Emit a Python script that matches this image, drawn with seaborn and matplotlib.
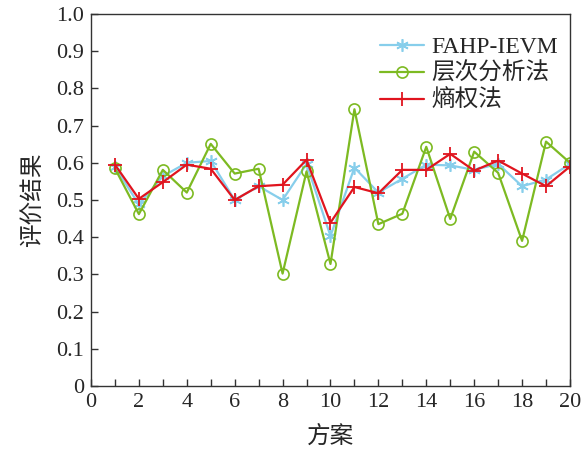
import matplotlib
matplotlib.use("Agg")
import matplotlib.pyplot as plt
import seaborn as sns
import pandas as pd

schemes = list(range(1, 21))
fahp_ievm = [0.589, 0.488, 0.564, 0.600, 0.605, 0.500, 0.537, 0.500, 0.597, 0.403,
             0.587, 0.520, 0.557, 0.595, 0.593, 0.581, 0.597, 0.537, 0.555, 0.597]
ahp = [0.585, 0.462, 0.581, 0.520, 0.651, 0.571, 0.584, 0.302, 0.577, 0.328,
       0.744, 0.435, 0.463, 0.643, 0.449, 0.630, 0.573, 0.390, 0.657, 0.600]
entropy = [0.595, 0.503, 0.548, 0.595, 0.584, 0.500, 0.537, 0.541, 0.608, 0.439,
           0.535, 0.518, 0.581, 0.581, 0.624, 0.579, 0.606, 0.571, 0.537, 0.590]
series_names = ["FAHP-IEVM", "层次分析法", "熵权法"]
x_ticks = list(range(0, 21, 2))
y_ticks = [i / 10 for i in range(11)]
y_ticklabels = ["0"] + [f"{i/10:.1f}" for i in range(1, 11)]

sns.set_theme(style="ticks")
plt.rcParams['font.family'] = ['Liberation Serif', 'Noto Sans CJK SC']
plt.rcParams['axes.unicode_minus'] = False

fig = plt.figure(figsize=(5.87, 4.54), dpi=100)
ax = fig.add_axes([0.155, 0.150, 0.816, 0.819])

df = pd.DataFrame({"x": schemes, "a": fahp_ievm, "b": ahp, "c": entropy})

sns.lineplot(data=df, x="x", y="a", ax=ax, color="#87CEEB", lw=1.6,
             marker=(6, 2, 0), markersize=9, markeredgewidth=1.2,
             markeredgecolor="#87CEEB", label=series_names[0])
sns.lineplot(data=df, x="x", y="b", ax=ax, color="#7DBA22", lw=1.6,
             marker="o", markersize=8, markerfacecolor="none",
             markeredgecolor="#7DBA22", markeredgewidth=1.2, label=series_names[1])
sns.lineplot(data=df, x="x", y="c", ax=ax, color="#E0141E", lw=1.6,
             marker="+", markersize=10, markeredgewidth=1.3,
             markeredgecolor="#E0141E", label=series_names[2])

ax.set_xlim(0, 20)
ax.set_ylim(0, 1.0)
ax.set_xticks(x_ticks)
ax.set_xticklabels([str(v) for v in x_ticks])
ax.set_xticks(list(range(1, 20, 2)), minor=True)
ax.set_yticks(y_ticks)
ax.set_yticklabels(y_ticklabels)
ax.tick_params(axis="both", which="both", direction="in", top=False, right=False,
               labelsize=16, color="#333333", pad=5)
ax.tick_params(which="major", length=5, width=1)
ax.tick_params(which="minor", length=5, width=1)
for s in ax.spines.values():
    s.set_color("#333333")
    s.set_linewidth(1.0)

ax.set_xlabel("方案", fontsize=17, labelpad=10)
ax.set_ylabel("评价结果", fontsize=17, labelpad=9)

leg = ax.legend(loc="upper right", frameon=False, fontsize=17, handlelength=1.9,
                handletextpad=0.3, labelspacing=0.2, borderaxespad=0.0,
                bbox_to_anchor=(0.995, 0.965))

fig.savefig("out.png", dpi=100)
